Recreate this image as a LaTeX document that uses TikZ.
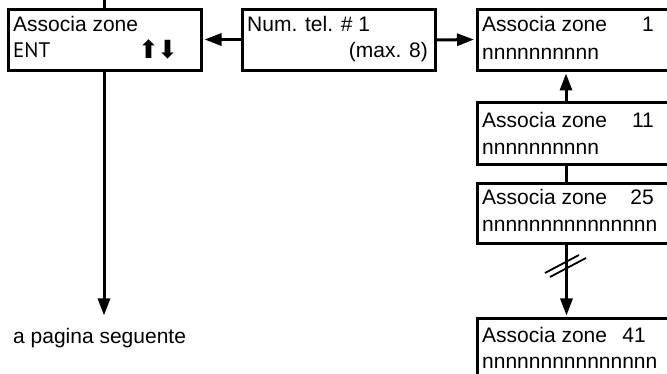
\documentclass[tikz,border=0pt]{standalone}
\usepackage{fontspec}
\setmainfont{Liberation Sans}
\newfontfamily\entfont{PT Sans}
\newfontfamily\arrowfont{DejaVu Sans}
\usetikzlibrary{arrows.meta}
\begin{document}
\begin{tikzpicture}[x=1pt,y=-1pt,
  box/.style={draw, line width=3pt, rectangle, inner sep=0pt, anchor=north west},
  lbl/.style={anchor=base west, inner sep=0pt, font=\fontsize{21}{25}\selectfont},
  num/.style={anchor=base east, inner sep=0pt, font=\fontsize{21}{25}\selectfont},
  conn/.style={line width=3pt},
  arr/.style={line width=3pt, -{Triangle[length=17pt,width=12pt]}, shorten >=1.5pt},
  slash/.style={line width=1.8pt}]
\useasboundingbox (0,0) rectangle (667,374);
\clip (0,0) rectangle (667,374);

% display boxes
\node[box, minimum width=193.5pt, minimum height=60.5pt] (A) at (6.5,8.5) {};
\node[box, minimum width=192.5pt, minimum height=61pt] (B) at (241,8.5) {};
\node[box, minimum width=230pt, minimum height=61pt] (C) at (475.5,8) {};
\node[box, minimum width=230pt, minimum height=62pt] (D) at (475.5,101.5) {};
\node[box, minimum width=230pt, minimum height=60.5pt] (E) at (475.5,182) {};
\node[box, minimum width=230pt, minimum height=63pt] (F) at (475.5,317) {};

% texts
\node[lbl] (A1) at (13,32) {Associa zone};
\node[lbl, font=\entfont\fontsize{21}{25}\selectfont] (A2) at (13,58) {ENT};
\node[anchor=base west, inner sep=0pt, font=\arrowfont\fontsize{25}{28}\selectfont] (A3) at (138,59) {⬆\kern-2pt⬇};
\node[lbl] (B1) at (247,32) {Num. tel. \# 1};
\node[num] (B2) at (428,58) {(max. 8)};
\node[lbl] (C1) at (482,32) {Associa zone};
\node[num] (C2) at (654,32) {1};
\node[lbl] (C3) at (482,60) {nnnnnnnnnn};
\node[lbl] (D1) at (482,128) {Associa zone};
\node[num] (D2) at (654,128) {11};
\node[lbl] (D3) at (482,155) {nnnnnnnnnn};
\node[lbl] (E1) at (482,205) {Associa zone};
\node[num] (E2) at (654,205) {25};
\node[lbl] (E3) at (482,232) {nnnnnnnnnnnnnnn};
\node[lbl] (F1) at (482,342) {Associa zone};
\node[num] (F2) at (646,342) {41};
\node[lbl] (F3) at (482,368) {nnnnnnnnnnnnnnn};
\node[lbl] (next) at (13,343) {a pagina seguente};

% connectors
\coordinate (top) at (104,0);
\coordinate (down) at (104,317);
\draw[conn] (top) -- ([xshift=97.5pt]A.north west);
\draw[arr] ([xshift=97.5pt]A.south west) -- (down);
\draw[arr] ([yshift=-31pt]B.north west) -- ([yshift=-31pt]A.north east);
\draw[arr] ([yshift=-31.5pt]B.north east) -- ([yshift=-31.5pt]C.north west);
\draw[arr] ([xshift=90.5pt]D.north west) -- ([xshift=90.5pt]C.south west);
\draw[conn] ([xshift=91pt]D.south west) -- ([xshift=91pt]E.north west);
\draw[arr] ([xshift=91pt]E.south west) -- ([xshift=91pt]F.north west);

% break mark on the last connector
\draw[slash] (545,273) -- (579,255);
\draw[slash] (550,277) -- (586,258);
\end{tikzpicture}
\end{document}
